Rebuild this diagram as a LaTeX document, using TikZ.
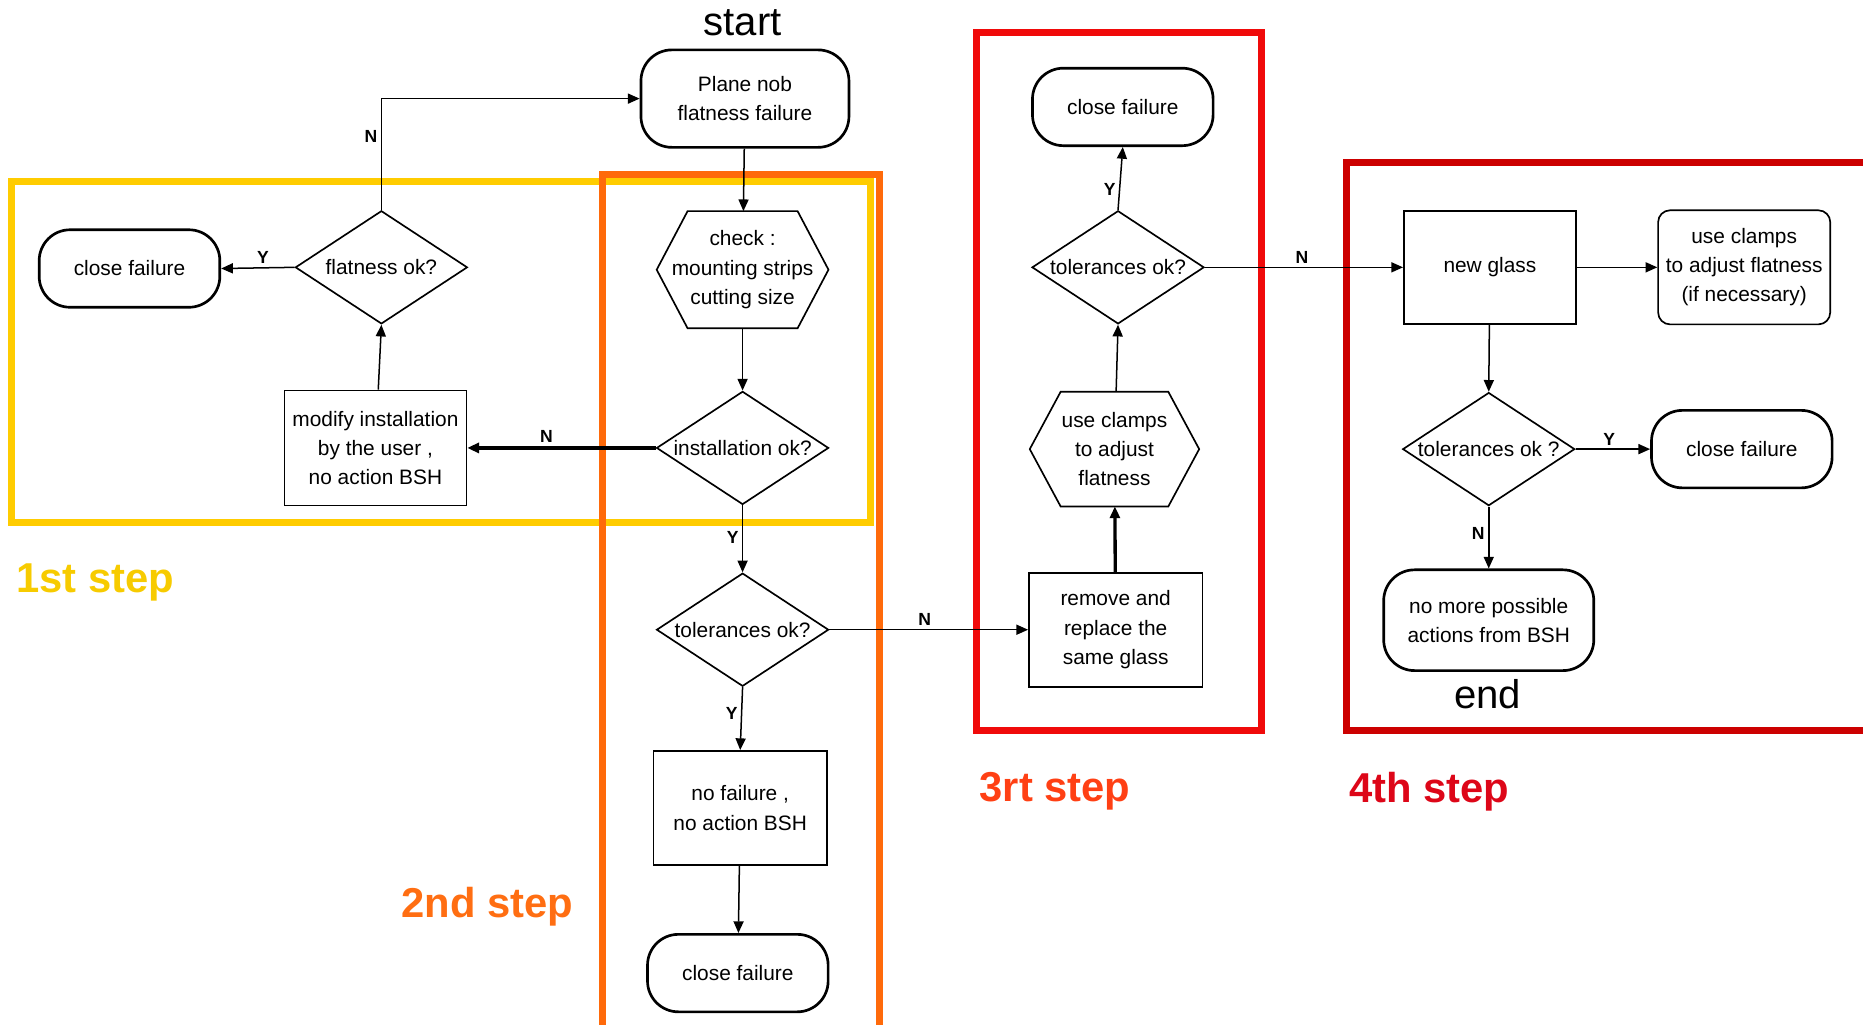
\documentclass[tikz,border=0pt]{standalone}
\usepackage{fontspec}
\setmainfont{Liberation Sans}
\usepackage{tikz}
\usetikzlibrary{arrows.meta,shapes.geometric}
\definecolor{stepone}{HTML}{FFCC00}
\definecolor{steptwo}{HTML}{FF6A0A}
\definecolor{stepthree}{HTML}{F00A0A}
\definecolor{stepfour}{HTML}{CC0000}
\definecolor{txtone}{HTML}{F7CB00}
\definecolor{txttwo}{HTML}{FF6E12}
\definecolor{txtthree}{HTML}{FF4014}
\definecolor{txtfour}{HTML}{DD0618}
\newcommand{\hexframe}[1]{\draw[line width=1pt] (#1.west) -- ([xshift=0.65cm]#1.north west) -- ([xshift=-0.65cm]#1.north east)
  -- (#1.east) -- ([xshift=-0.65cm]#1.south east) -- ([xshift=0.65cm]#1.south west) -- cycle;}
\tikzset{box/.style={draw,line width=1pt,fill=white,align=center,inner sep=0pt,font=\fontsize{12.5}{17.5}\selectfont},
  term/.style={box,line width=1.6pt,rounded corners=0.65cm,minimum width=3.8cm,minimum height=1.63cm},
  proc/.style={box,minimum width=3.65cm,minimum height=2.4cm},
  deci/.style={box,diamond,minimum width=3.62cm,minimum height=2.38cm},
  hexa/.style={align=center,inner sep=0pt,font=\fontsize{12.5}{17.5}\selectfont,minimum width=3.6cm,minimum height=2.45cm},
  frame/.style={line width=0.15cm},
  steplbl/.style={font=\bfseries\fontsize{25}{28}\selectfont},
  yn/.style={font=\bfseries\fontsize{10.5}{12}\selectfont,inner sep=2pt},
  flow/.style={-{Triangle[length=7pt,width=6pt]},line width=0.9pt},
  heavy/.style={flow,line width=2pt}}

\begin{document}
\begin{tikzpicture}[x=0.025cm,y=-0.025cm]
\useasboundingbox (0,0) rectangle (1568,862);
% step frames
\draw[frame,stepone] (10,153) rectangle (733,440);
\draw[frame,steptwo] (507,147) rectangle (740,880);
\draw[frame,stepthree] (822,27) rectangle (1062,615);
\draw[frame,stepfour] (1133,137) rectangle (1600,615);
\node[steplbl,txtone] (lone) at (80,490) {1st step};
\node[steplbl,txttwo] (ltwo) at (410,763) {2nd step};
\node[steplbl,txtthree] (lthree) at (888,666) {3rt step};
\node[steplbl,txtfour] (lfour) at (1203,666) {4th step};

% 1st and 2nd step
\node[font=\fontsize{24}{26}\selectfont] (tstart) at (625,19) {start};
\node[term,minimum width=4.375cm,minimum height=2.05cm] (start) at (627,83) {Plane nob\\flatness failure};
\node[hexa] (check) at (625,227) {check :\\mounting strips\\cutting size};
\hexframe{check}
\node[deci] (inst) at (625,377) {\makebox[0pt]{installation ok?}};
\node[proc,minimum width=3.83cm,minimum height=2.42cm] (modify) at (316,377) {modify installation\\by the user ,\\no action BSH};
\node[deci] (flat) at (321,225) {\makebox[0pt]{flatness ok?}};
\node[term] (closeA) at (109,226) {close failure};
\node[deci] (tolA) at (625,530) {\makebox[0pt]{tolerances ok?}};
\node[proc] (nofail) at (623,680) {no failure ,\\no action BSH};
\node[term] (closeB) at (621,819) {close failure};

% 3rd step
\node[proc] (remove) at (939,530) {remove and\\replace the\\same glass};
\node[hexa,minimum width=3.55cm,minimum height=2.4cm] (clamps) at (938,378) {use clamps\\to adjust\\flatness};
\hexframe{clamps}
\node[deci] (tolB) at (941,225) {\makebox[0pt]{tolerances ok?}};
\node[term] (closeC) at (945,90) {close failure};

% 4th step
\node[proc,minimum width=3.62cm,minimum height=2.38cm] (glass) at (1254,225) {new glass};
\node[box,rounded corners=0.25cm,minimum width=3.62cm,minimum height=2.4cm] (clampsB) at (1468,225) {use clamps\\to adjust flatness\\(if necessary)};
\node[deci] (tolC) at (1253,378) {\makebox[0pt]{tolerances ok ?}};
\node[term] (closeD) at (1466,378) {close failure};
\node[term,minimum width=4.42cm,minimum height=2.12cm] (nomore) at (1253,522) {no more possible\\actions from BSH};
\node[font=\fontsize{24}{26}\selectfont] (tend) at (1252,584) {end};

\draw[flow] (start) -- (check);
\draw[flow] (check) -- (inst);
\draw[heavy] (inst.west) -- node[yn,above,pos=0.58] {N} (modify.east);
\draw[flow] (modify) -- (flat.south);
\draw[flow] (flat.west) -- node[yn,above,pos=0.43] {Y} (closeA.east);
\draw[flow] (flat.north) |- node[yn,left,pos=0.33] {N} (start.west);
\draw[flow] (inst.south) -- node[yn,left,pos=0.48] {Y} (tolA.north);
\draw[flow] (tolA.south) -- node[yn,left,pos=0.42] {Y} (nofail.north);
\draw[flow] (nofail) -- (closeB);
\draw[flow] (tolA.east) -- node[yn,above,pos=0.48] {N} (remove.west);
\draw[heavy] (remove) -- (clamps);
\draw[flow] (clamps) -- (tolB.south);
\draw[flow] (tolB.north) -- node[yn,left,pos=0.32] {Y} (closeC.south);
\draw[flow] (tolB.east) -- node[yn,above,pos=0.49] {N} (glass.west);
\draw[flow] (glass) -- (clampsB);
\draw[flow] (glass) -- (tolC.north);
\draw[flow] (tolC.east) -- node[yn,above,pos=0.45] {Y} (closeD.west);
\draw[flow] (tolC.south) -- node[yn,left,pos=0.44] {N} (nomore.north);
\end{tikzpicture}
\end{document}
